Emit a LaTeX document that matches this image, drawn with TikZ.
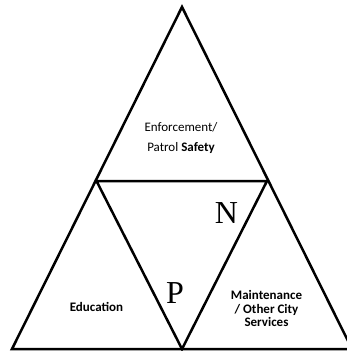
\documentclass[tikz,border=0pt]{standalone}
\usepackage{fontspec}
\setmainfont{Carlito}
\newfontfamily\letterfont{Liberation Serif}
\begin{document}
\begin{tikzpicture}[x=1pt,y=-1pt,
  edge/.style={line width=2.5pt, line join=miter},
  area/.style={align=center, inner sep=0pt, font=\fontsize{13}{20}\selectfont},
  areabold/.style={align=center, inner sep=0pt, font=\bfseries\fontsize{13}{13.5}\selectfont},
  bigletter/.style={inner sep=0pt, font=\letterfont\fontsize{32}{32}\selectfont}]
\useasboundingbox (0,0) rectangle (346,351);
% corners of the outer and inner triangles
\coordinate (top) at (182,7);
\coordinate (midleft) at (96.5,181);
\coordinate (midright) at (267,181);
\coordinate (botleft) at (12,349);
\coordinate (botmid) at (182,349);
\coordinate (botright) at (352,349);
\draw[edge] (top) -- (botleft) -- (botright) -- cycle;
\draw[edge] (midleft) -- (midright) -- (botmid) -- cycle;
% texts
\node[area] (enforce) at (181,138) {Enforcement/\\Patrol \textbf{Safety}};
\node[areabold] (educ) at (96.5,307) {Education};
\node[areabold] (maint) at (266.5,308.5) {Maintenance\\/ Other City\\Services};
\node[bigletter] (letterN) at (226.5,213) {N};
\node[bigletter] (letterP) at (175,293) {P};
\end{tikzpicture}
\end{document}
